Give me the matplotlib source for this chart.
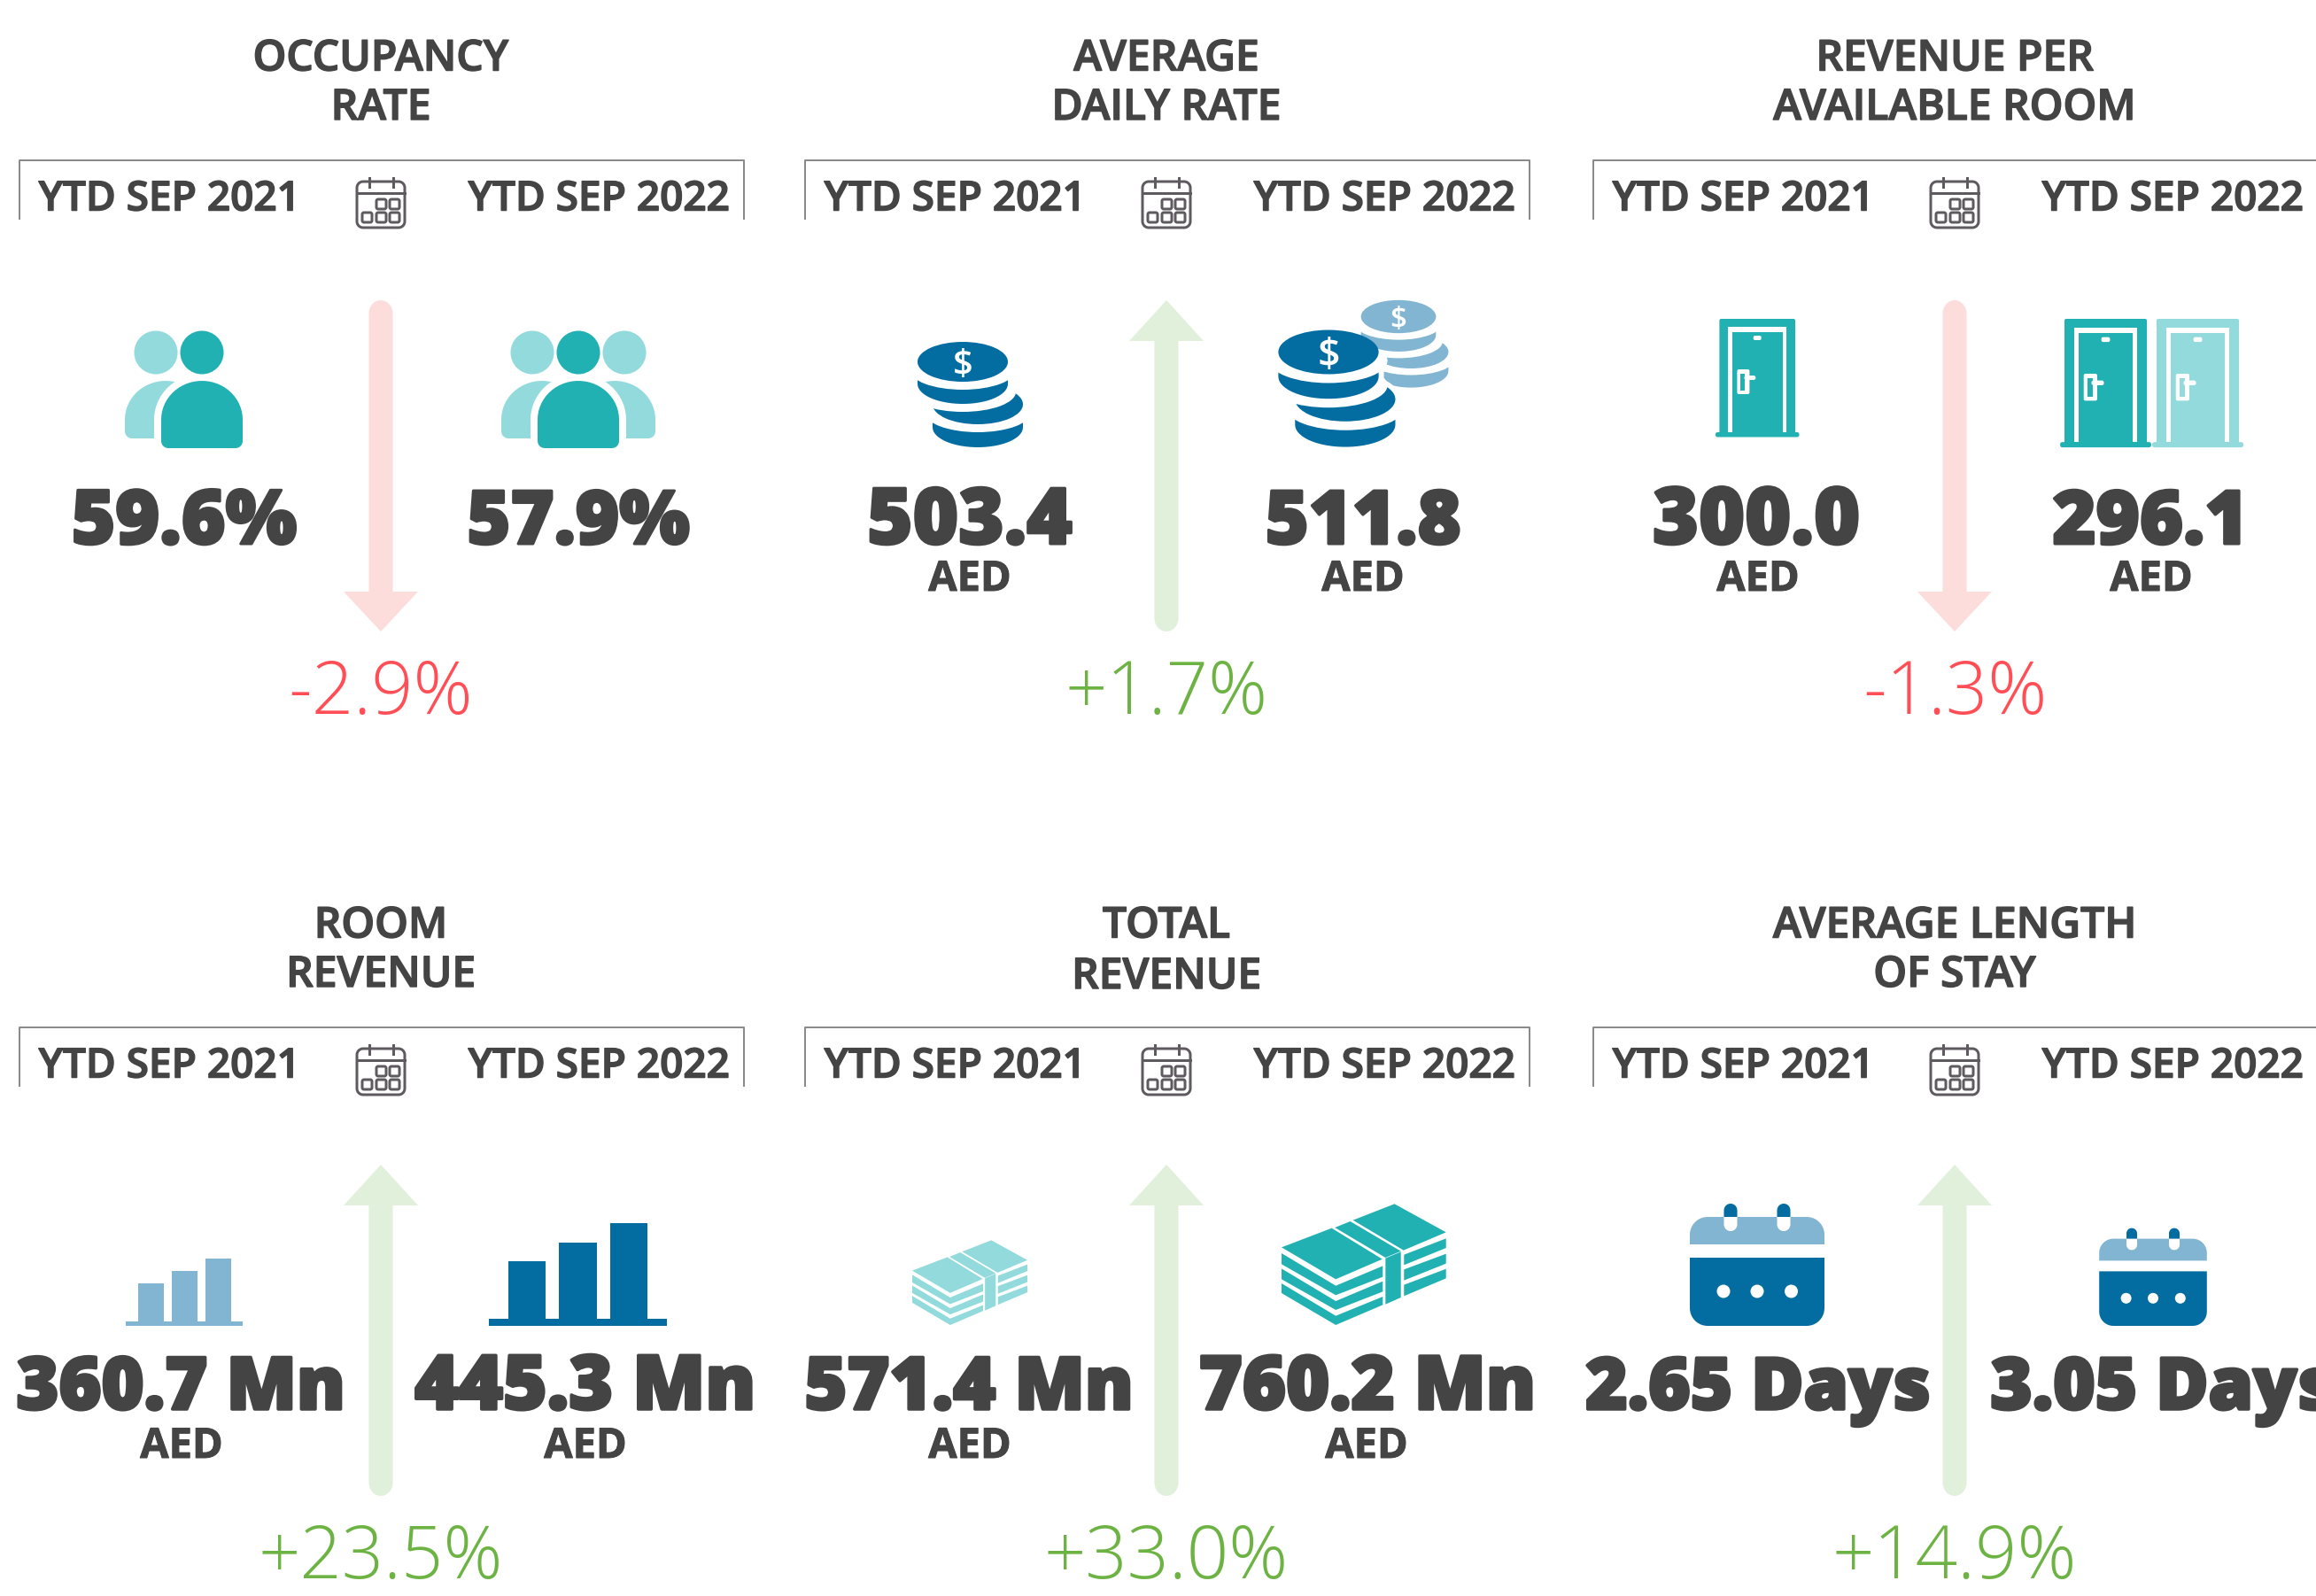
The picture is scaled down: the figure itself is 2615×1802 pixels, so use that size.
import numpy as np
import matplotlib
matplotlib.use("Agg")
import matplotlib.pyplot as plt
import matplotlib.patheffects as pe
from matplotlib.patches import Polygon, Ellipse, Circle, Rectangle

# values
titles = ["OCCUPANCY\nRATE", "AVERAGE\nDAILY RATE", "REVENUE PER\nAVAILABLE ROOM",
          "ROOM\nREVENUE", "TOTAL\nREVENUE", "AVERAGE LENGTH\nOF STAY"]
period_left = "YTD SEP 2021"
period_right = "YTD SEP 2022"
values_2021 = ["59.6%", "503.4", "300.0", "360.7 Mn", "571.4 Mn", "2.65 Days"]
values_2022 = ["57.9%", "511.8", "296.1", "445.3 Mn", "760.2 Mn", "3.05 Days"]
units = ["", "AED", "AED", "AED", "AED", ""]
changes = ["-2.9%", "+1.7%", "-1.3%", "+23.5%", "+33.0%", "+14.9%"]

DARK = "#444444"
TEAL = "#22B1B3"
TEAL_L = "#92DADB"
BLUE = "#036CA1"
BLUE_L = "#81B5D1"
PINK = "#FDDCDC"
GREEN_L = "#E1F0DB"
RED = "#FF4E55"
GREEN = "#6DB344"
GREY = "#8A8A8A"
CAL = "#5F5A5F"
FONT = "Open Sans"

fig = plt.figure(figsize=(26.15, 18.02), dpi=100)
ax = fig.add_axes([0, 0, 1, 1])
ax.set_xlim(0, 2615)
ax.set_ylim(1802, 0)
ax.axis("off")


def px(n):
    return n * 0.72


def heavy(t, n):
    # fatten a text by n pixels, the installed weights are a bit too thin
    t.set_path_effects([pe.withStroke(linewidth=px(n), foreground=DARK)])
    return t


def rbox(x0, y0, x1, y1, rt=0, rb=0):
    # rounded box as a polygon, separate radius for top and bottom corners
    t = np.linspace(0, np.pi / 2, 12)
    pts = []
    pts += list(zip(x0 + rt - rt * np.cos(t), y0 + rt - rt * np.sin(t)))
    pts += list(zip(x1 - rt + rt * np.sin(t), y0 + rt - rt * np.cos(t)))
    pts += list(zip(x1 - rb + rb * np.cos(t), y1 - rb + rb * np.sin(t)))
    pts += list(zip(x0 + rb - rb * np.sin(t), y1 - rb + rb * np.cos(t)))
    return np.array(pts)


def fill(pts, color, z=3):
    ax.add_patch(Polygon(pts, closed=True, fc=color, ec="none", zorder=z))


def halo_fill(pts, color, z, n):
    # white outline drawn first so the fill keeps its full size
    ax.add_patch(Polygon(pts, closed=True, fc="white", ec="white", lw=px(n), zorder=z, joinstyle="round"))
    ax.add_patch(Polygon(pts, closed=True, fc=color, ec="none", zorder=z))


def arrow(cx, top, bottom, up, color):
    w = 13.5
    hw = 42
    if up:
        pts = [(cx, top), (cx + hw, top + 46), (cx + w, top + 46)]
        t = np.linspace(0, np.pi, 16)
        pts += list(zip(cx + w * np.cos(t), bottom - 15 + 15 * np.sin(t)))
        pts += [(cx - w, top + 46), (cx - hw, top + 46)]
    else:
        t = np.linspace(np.pi, 2 * np.pi, 16)
        pts = list(zip(cx + w * np.cos(t), top + 15 + 15 * np.sin(t)))
        pts += [(cx + w, bottom - 45), (cx + hw, bottom - 45), (cx, bottom),
                (cx - hw, bottom - 45), (cx - w, bottom - 45)]
    fill(pts, color, z=2)


def calendar_small(cx, y):
    # little outlined calendar between the two period labels
    lw = px(3)
    ax.add_patch(Polygon(rbox(cx - 27, y + 4, cx + 27, y + 56, 7, 7), closed=True, fc="none",
                         ec=CAL, lw=lw, zorder=3))
    ax.plot([cx - 27, cx + 27], [y + 17, y + 17], color=CAL, lw=lw, zorder=3)
    for dx in (-13.5, 13.5):
        ax.plot([cx + dx, cx + dx], [y, y + 10], color=CAL, lw=lw, zorder=3)
    for dx, dy in ((-5, 24), (10, 24), (-21, 39), (-5, 39), (10, 39)):
        ax.add_patch(Polygon(rbox(cx + dx, y + dy, cx + dx + 11, y + dy + 11, 2, 2), closed=True,
                             fc="none", ec=CAL, lw=lw, zorder=3))


def dome(x0, x1, top, bot, color, z, halo=0):
    r = (x1 - x0) / 2
    t = np.linspace(np.pi, 2 * np.pi, 30)
    pts = list(zip((x0 + x1) / 2 + r * np.cos(t), top + r * 0.95 + r * 0.95 * np.sin(t)))
    c = np.linspace(0, np.pi / 2, 6)
    pts += list(zip(x1 - 8 + 8 * np.cos(c), bot - 8 + 8 * np.sin(c)))
    pts += list(zip(x0 + 8 - 8 * np.sin(c), bot - 8 + 8 * np.cos(c)))
    if halo:
        halo_fill(pts, color, z, halo)
    else:
        fill(pts, color, z=z)


def people(cx, both):
    dome(cx - 87, cx + 5, 430, 495, TEAL_L, 3)
    ax.add_patch(Circle((cx - 52, 398), 24.5, fc=TEAL_L, ec="none", zorder=3))
    if both:
        dome(cx - 5, cx + 87, 430, 495, TEAL_L, 3)
        ax.add_patch(Circle((cx + 52, 398), 24.5, fc=TEAL_L, ec="none", zorder=3))
    dome(cx - 46, cx + 46, 430, 506, TEAL, 4, halo=16)
    ax.add_patch(Circle((cx, 398), 24.5, fc=TEAL, ec="none", zorder=4))


def coins(cx, cy, s, color, z=3, halo=0):
    rx = 51 * s
    ry = 22.5 * s
    gap_rx = 60 * s

    def ell(x, y, c, w=rx):
        ax.add_patch(Ellipse((x, y), 2 * w, 2 * ry, fc=c, ec="none", zorder=z))

    def band(x, y, top_y):
        # coin side: lower half ellipse and the short straight edges above it
        t = np.linspace(0, np.pi, 30)
        pts = [(x - rx, top_y), (x + rx, top_y)] + list(zip(x + rx * np.cos(t), y + ry * np.sin(t)))
        if halo:
            halo_fill(pts, color, z, halo)
        else:
            fill(pts, color, z=z)

    # bottom coin first, each gap is a white ellipse laid over the one below
    band(cx + 17 * s, cy + 74 * s, cy + 65.5 * s)
    ell(cx + 17 * s, cy + 57 * s, "white", gap_rx)
    if halo:
        ax.add_patch(Ellipse((cx + 17 * s, cy + 48 * s), 2 * rx + halo, 2 * ry + halo, fc="white", ec="none", zorder=z))
    ell(cx + 17 * s, cy + 48 * s, color)
    ell(cx, cy + 34 * s, "white", gap_rx)
    band(cx, cy + 25 * s, cy + 17.5 * s)
    ell(cx, cy + 9 * s, "white", gap_rx)
    ell(cx, cy, color)
    ax.text(cx, cy + 15 * s, "$", color="white", fontsize=29 * s, family=FONT, weight="semibold",
            ha="center", va="baseline", zorder=z)


def door(x0, s, color, z=3):
    y0 = 360
    w = 85.6 * s
    h = 128 * s
    xc = x0 + w / 2
    fill(rbox(x0, y0, x0 + w, y0 + h + 2, 2, 0), color, z)
    fill(rbox(x0 - 4.5 * s, y0 + h, x0 + w + 4.5 * s, y0 + h + 5.5 * s, 2.5, 2.5), color, z)
    fr = [(x0 + 10 * s, y0 + h), (x0 + 10 * s, y0 + 9 * s), (x0 + w - 10 * s, y0 + 9 * s),
          (x0 + w - 10 * s, y0 + h), (x0 + w - 14.5 * s, y0 + h), (x0 + w - 14.5 * s, y0 + 15 * s),
          (x0 + 14.5 * s, y0 + 15 * s), (x0 + 14.5 * s, y0 + h)]
    fill(fr, "white", z + 1)
    fill(rbox(xc - 4.5 * s, y0 + 19 * s, xc + 4.5 * s, y0 + 24 * s, 2, 2), "white", z + 1)
    fill(rbox(x0 + 20 * s, y0 + 57 * s, x0 + 34 * s, y0 + 85 * s, 2, 2), "white", z + 1)
    fill(rbox(x0 + 24 * s, y0 + 62 * s, x0 + 29 * s, y0 + 81 * s), color, z + 2)
    fill(rbox(x0 + 28 * s, y0 + 64 * s, x0 + 41 * s, y0 + 69 * s, 2.5, 2.5), "white", z + 3)


def bars(x_left, width, step, tops, base_x0, base_x1, base_top, color):
    for i, t in enumerate(tops):
        ax.add_patch(Rectangle((x_left + i * step, t), width, 1496.7 - t, fc=color, ec="none", zorder=3))
    ax.add_patch(Rectangle((base_x0, base_top), base_x1 - base_x0, 1496.7 - base_top, fc=color, ec="none", zorder=3))


# outline of the banknote bundle, measured on a 1072-1436 / 178-588 grid
NOTE_PARTS = [
    [(1072, 325), (1183, 260), (1295, 365), (1192, 433)],
    [(1190, 258), (1224, 237), (1336, 338), (1302, 360)],
    [(1230, 233), (1322, 178), (1436, 274), (1342, 335)],
    [(1072, 345), (1192, 455), (1296, 388), (1296, 425), (1192, 487), (1072, 382)],
    [(1072, 397), (1192, 507), (1296, 440), (1296, 475), (1192, 537), (1072, 433)],
    [(1072, 447), (1192, 557), (1296, 492), (1296, 520), (1192, 588), (1072, 480)],
    [(1302, 362), (1336, 340), (1336, 495), (1302, 518)],
    [(1343, 350), (1436, 295), (1436, 327), (1343, 385)],
    [(1343, 400), (1436, 347), (1436, 380), (1343, 437)],
    [(1343, 452), (1436, 398), (1436, 430), (1343, 490)],
]


def notes(x0, ybot, s, color):
    for part in NOTE_PARTS:
        p = [(x0 + (a - 1072) * s / 1.96, ybot + (b - 588) * s / 3) for a, b in part]
        fill(p, color)


def day_calendar(cx, s):
    hw = 76 * s
    ybot = 1497
    top = ybot - 123 * s
    fill(rbox(cx - hw, top, cx + hw, ybot - 92 * s, 20 * s, 0), BLUE_L)
    fill(rbox(cx - hw, ybot - 77 * s, cx + hw, ybot, 0, 20 * s), BLUE)
    for dx in (-30, 30):
        x = cx + dx * s
        fill(rbox(x - 7.5 * s, top - 15 * s, x + 7.5 * s, top + 16 * s, 7.5 * s, 7.5 * s), "white", 4)
        fill(rbox(x - 7.5 * s, top - 15 * s, x + 7.5 * s, top, 7.5 * s, 0), BLUE, 5)
    for dx in (-38, 0, 38.5):
        ax.add_patch(Ellipse((cx + dx * s, ybot - 39 * s), 15 * s, 15 * s, fc="white", ec="none", zorder=5))


centres = [430, 1317, 2207, 430, 1317, 2207]
left_x = [208, 1095, 1983, 204, 1094, 1985]
right_x = [653, 1539, 2428, 661, 1544, 2442]
dy_row = [0, 0, 0, 979, 979, 979]
# text px size per number, the reference digits are set tighter than Open Sans
size_2021 = [85, 88, 89, 82, 82, 81]
size_2022 = [84, 84, 84, 85, 84, 81]

for i in range(6):
    cx = centres[i]
    dy = dy_row[i]
    a, b = titles[i].split("\n")
    heavy(ax.text(cx, 79.5 + dy, a, color=DARK, fontsize=px(48), family=FONT, weight="semibold",
                  ha="center", va="baseline"), 1.5)
    heavy(ax.text(cx, 135 + dy + (2 if i == 4 else 0), b, color=DARK, fontsize=px(48), family=FONT,
                  weight="semibold", ha="center", va="baseline"), 1.5)
    # bracket
    x0 = cx - 408
    x1 = cx + 410
    ax.plot([x0, x0, x1, x1], [247 + dy, 181 + dy, 181 + dy, 247 + dy], color=GREY, lw=px(2), zorder=2, clip_on=False)
    heavy(ax.text(cx - 238.5, 237.5 + dy, period_left, color=DARK, fontsize=px(46), family=FONT, weight="semibold",
                  ha="center", va="baseline"), 1.5)
    heavy(ax.text(cx + 246.5, 237.5 + dy, period_right, color=DARK, fontsize=px(46), family=FONT, weight="semibold",
                  ha="center", va="baseline"), 1.5)
    calendar_small(cx, 201 + dy)

    up = changes[i].startswith("+")
    shift = 976 if dy else 0
    arrow(cx, 339 + shift, 713 + shift, up, GREEN_L if up else PINK)
    ax.text(cx, 806 + shift, changes[i], color=GREEN if up else RED, fontsize=px(83), family=FONT, weight="light",
            ha="center", va="baseline")

    base = 614 + (977 if dy else 0)
    stroke = 3.5 if dy else 3
    heavy(ax.text(left_x[i], base, values_2021[i], color=DARK, fontsize=px(size_2021[i]), family=FONT,
                  weight="extra bold", ha="center", va="baseline"), stroke)
    heavy(ax.text(right_x[i], base, values_2022[i], color=DARK, fontsize=px(size_2022[i]), family=FONT,
                  weight="extra bold", ha="center", va="baseline"), stroke)
    if units[i]:
        ux = {1: (1095, 1539), 2: (1985, 2429), 3: (205, 661), 4: (1095, 1543)}[i]
        for x in ux:
            heavy(ax.text(x, 667 + (979 if dy else 0), units[i], color=DARK, fontsize=px(47), family=FONT,
                          weight="bold", ha="center", va="baseline"), 1)

# icons
people(228, False)
people(653, True)

coins(1087, 408.5, 1.0, BLUE)
coins(1579, 357.5, 0.83, BLUE_L, z=3)
coins(1500, 397.5, 1.11, BLUE, z=4, halo=12)

door(1941.4, 1.0, TEAL)
door(2331, 1.087, TEAL)
door(2435, 1.087, TEAL_L)

bars(156, 28.5, 38, [1449, 1435, 1420.7], 142, 274, 1491.7, BLUE_L)
bars(573.5, 42.5, 57.7, [1424, 1402.7, 1381], 552, 753, 1489, BLUE)

notes(1030, 1496, 0.70, TEAL_L)
notes(1447, 1496, 1.0, TEAL)

day_calendar(1984, 1.0)
day_calendar(2431, 0.80)

fig.savefig("out.png", dpi=100, facecolor="white")
